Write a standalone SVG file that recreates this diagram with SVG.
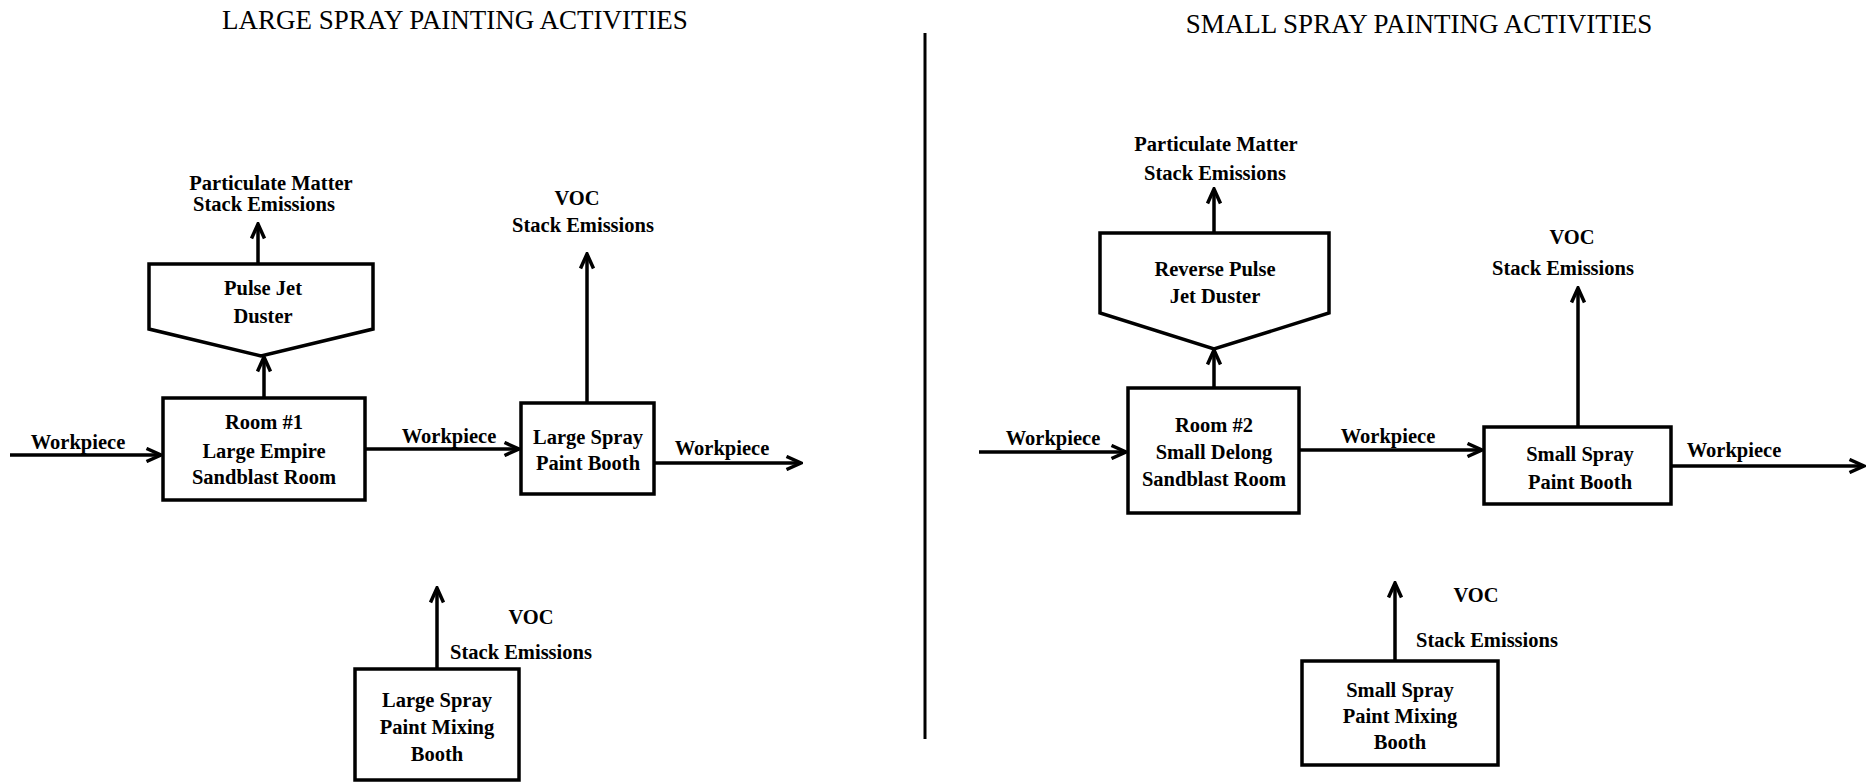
<svg xmlns="http://www.w3.org/2000/svg" width="1874" height="782" viewBox="0 0 1874 782">
<style>
text{font-family:"Liberation Serif","Times New Roman",serif;fill:#000;text-anchor:middle}
.t{font-size:27px}
.l{font-size:20.5px;font-weight:bold}
.box{fill:#fff;stroke:#000;stroke-width:3.5}
.c{fill:none;stroke:#000;stroke-width:3.5}
</style>
<defs>
<marker id="ah" viewBox="0 0 18 16" refX="16" refY="8" markerWidth="18" markerHeight="16" markerUnits="userSpaceOnUse" orient="auto">
<path d="M1.5,1.5 L16,8 L1.5,14.5" fill="none" stroke="#000" stroke-width="3.5"/>
</marker>
</defs>
<rect width="1874" height="782" fill="#fff"/>
<g id="titles">
<text class="t" x="455" y="29">LARGE SPRAY PAINTING ACTIVITIES</text>
<text class="t" x="1419" y="33">SMALL SPRAY PAINTING ACTIVITIES</text>
</g>
<line x1="925" y1="33" x2="925" y2="739" stroke="#000" stroke-width="3"/>
<g id="connectors">
<line class="c" x1="258" y1="264" x2="258" y2="224" marker-end="url(#ah)"/>
<line class="c" x1="264" y1="398" x2="264" y2="357" marker-end="url(#ah)"/>
<line class="c" x1="10" y1="455" x2="161" y2="455" marker-end="url(#ah)"/>
<line class="c" x1="365" y1="449" x2="519" y2="449" marker-end="url(#ah)"/>
<line class="c" x1="587" y1="403" x2="587" y2="254" marker-end="url(#ah)"/>
<line class="c" x1="654" y1="463" x2="801" y2="463" marker-end="url(#ah)"/>
<line class="c" x1="437" y1="669" x2="437" y2="588" marker-end="url(#ah)"/>
<line class="c" x1="1214" y1="233" x2="1214" y2="189" marker-end="url(#ah)"/>
<line class="c" x1="1214" y1="388" x2="1214" y2="350" marker-end="url(#ah)"/>
<line class="c" x1="979" y1="452" x2="1126" y2="452" marker-end="url(#ah)"/>
<line class="c" x1="1299" y1="450" x2="1482" y2="450" marker-end="url(#ah)"/>
<line class="c" x1="1578" y1="427" x2="1578" y2="288" marker-end="url(#ah)"/>
<line class="c" x1="1671" y1="466" x2="1864" y2="466" marker-end="url(#ah)"/>
<line class="c" x1="1395" y1="661" x2="1395" y2="583" marker-end="url(#ah)"/>
</g>
<g id="labels">
<text class="l" x="271" y="190">Particulate Matter</text>
<text class="l" x="264" y="211">Stack Emissions</text>
<text class="l" x="577" y="205">VOC</text>
<text class="l" x="583" y="232">Stack Emissions</text>
<text class="l" x="78" y="449">Workpiece</text>
<text class="l" x="449" y="443">Workpiece</text>
<text class="l" x="722" y="455">Workpiece</text>
<text class="l" x="531" y="624">VOC</text>
<text class="l" x="521" y="659">Stack Emissions</text>
<text class="l" x="1216" y="151">Particulate Matter</text>
<text class="l" x="1215" y="180">Stack Emissions</text>
<text class="l" x="1572" y="244">VOC</text>
<text class="l" x="1563" y="275">Stack Emissions</text>
<text class="l" x="1053" y="445">Workpiece</text>
<text class="l" x="1388" y="443">Workpiece</text>
<text class="l" x="1734" y="457">Workpiece</text>
<text class="l" x="1476" y="602">VOC</text>
<text class="l" x="1487" y="647">Stack Emissions</text>
</g>
<g id="pulse-jet-duster">
<path class="box" d="M149,264 L373,264 L373,329 L261,356 L149,329 Z"/>
<text class="l" x="263" y="295">Pulse Jet</text>
<text class="l" x="263" y="323">Duster</text>
</g>
<g id="room1">
<rect class="box" x="163" y="398" width="202" height="102"/>
<text class="l" x="264" y="429">Room #1</text>
<text class="l" x="264" y="458">Large Empire</text>
<text class="l" x="264" y="484">Sandblast Room</text>
</g>
<g id="large-spray-booth">
<rect class="box" x="521" y="403" width="133" height="91"/>
<text class="l" x="588" y="444">Large Spray</text>
<text class="l" x="588" y="470">Paint Booth</text>
</g>
<g id="large-mixing-booth">
<rect class="box" x="355" y="669" width="164" height="111"/>
<text class="l" x="437" y="707">Large Spray</text>
<text class="l" x="437" y="734">Paint Mixing</text>
<text class="l" x="437" y="761">Booth</text>
</g>
<g id="reverse-pulse-jet-duster">
<path class="box" d="M1100,233 L1329,233 L1329,313 L1214,349 L1100,313 Z"/>
<text class="l" x="1215" y="276">Reverse Pulse</text>
<text class="l" x="1215" y="303">Jet Duster</text>
</g>
<g id="room2">
<rect class="box" x="1128" y="388" width="171" height="125"/>
<text class="l" x="1214" y="432">Room #2</text>
<text class="l" x="1214" y="459">Small Delong</text>
<text class="l" x="1214" y="486">Sandblast Room</text>
</g>
<g id="small-spray-booth">
<rect class="box" x="1484" y="427" width="187" height="77"/>
<text class="l" x="1580" y="461">Small Spray</text>
<text class="l" x="1580" y="489">Paint Booth</text>
</g>
<g id="small-mixing-booth">
<rect class="box" x="1302" y="661" width="196" height="104"/>
<text class="l" x="1400" y="697">Small Spray</text>
<text class="l" x="1400" y="723">Paint Mixing</text>
<text class="l" x="1400" y="749">Booth</text>
</g>
</svg>
